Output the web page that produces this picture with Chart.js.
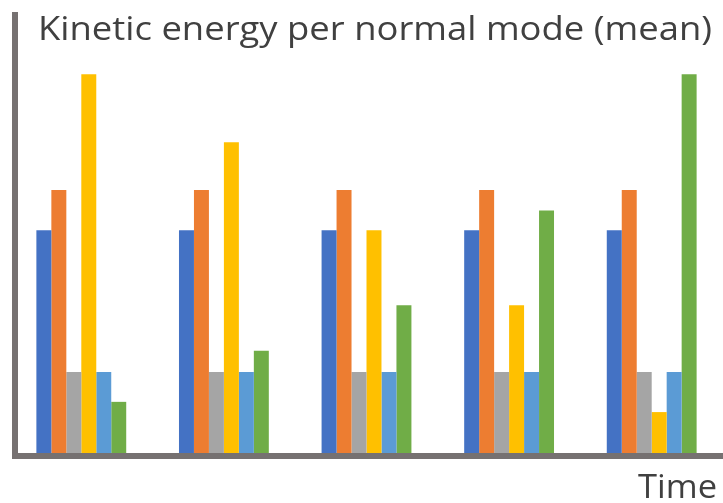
<!DOCTYPE html>
<html>
<head>
<meta charset="utf-8">
<script src="https://cdn.jsdelivr.net/npm/chart.js@4/dist/chart.umd.min.js"></script>
<style>
  html, body { margin: 0; padding: 0; background: #fff; }
  #wrap { width: 723px; height: 503px; }
</style>
</head>
<body>
<div id="wrap"><canvas id="ke"></canvas></div>
<script>
const times = ['t1', 't2', 't3', 't4', 't5'];
const mode1 = [58.8, 58.8, 58.8, 58.8, 58.8];
const mode2 = [69.4, 69.4, 69.4, 69.4, 69.4];
const mode3 = [21.4, 21.4, 21.4, 21.4, 21.4];
const mode4 = [100, 82, 58.8, 39, 10.8];
const mode5 = [21.4, 21.4, 21.4, 21.4, 21.4];
const mode6 = [13.5, 27, 39, 64, 100];
const colors = ['#4472C4', '#ED7D31', '#A5A5A5', '#FFC000', '#5B9BD5', '#70AD47'];

const axisColor = '#767171';

// draw text squeezed/stretched to a given width (reference font is narrower)
function fitText(ctx, text, x, y, width) {
    const w = ctx.measureText(text).width;
    ctx.save();
    ctx.translate(x, y);
    ctx.scale(width / w, 1);
    ctx.fillText(text, 0, 0);
    ctx.restore();
}

// axes lines + the two text labels
const decor = {
    id: 'decor',
    afterDraw(chart) {
        const { ctx, chartArea } = chart;
        ctx.save();
        ctx.fillStyle = axisColor;
        ctx.fillRect(12, chartArea.top, 6, chartArea.bottom - chartArea.top + 6);
        ctx.fillRect(12, chartArea.bottom, 723 - 12, 6);

        ctx.fillStyle = '#404040';
        ctx.textBaseline = 'alphabetic';
        ctx.textAlign = 'left';
        ctx.font = '33px "Open Sans"';
        fitText(ctx, 'Kinetic energy per normal mode (mean)', 38, 40, 674);
        fitText(ctx, 'Time', 638, 498, 79);
        ctx.restore();
    }
};

new Chart(
    document.getElementById('ke'),
    {
        type: 'bar',
        data: {
            labels: times,
            datasets: [mode1, mode2, mode3, mode4, mode5, mode6].map((d, i) => ({
                label: 'mode ' + (i + 1),
                data: d,
                backgroundColor: colors[i],
                borderWidth: 0
            }))
        },
        options: {
            responsive: true,
            maintainAspectRatio: false,
            animation: false,
            layout: { padding: { top: 12, left: 10, right: 0, bottom: 50 } },
            datasets: { bar: { categoryPercentage: 0.63, barPercentage: 1 } },
            scales: {
                x: { display: false },
                y: { display: false, min: 0, max: 116.4 }
            },
            plugins: {
                legend: { display: false },
                tooltip: { enabled: false }
            }
        },
        plugins: [decor]
    }
);
</script>
</body>
</html>
